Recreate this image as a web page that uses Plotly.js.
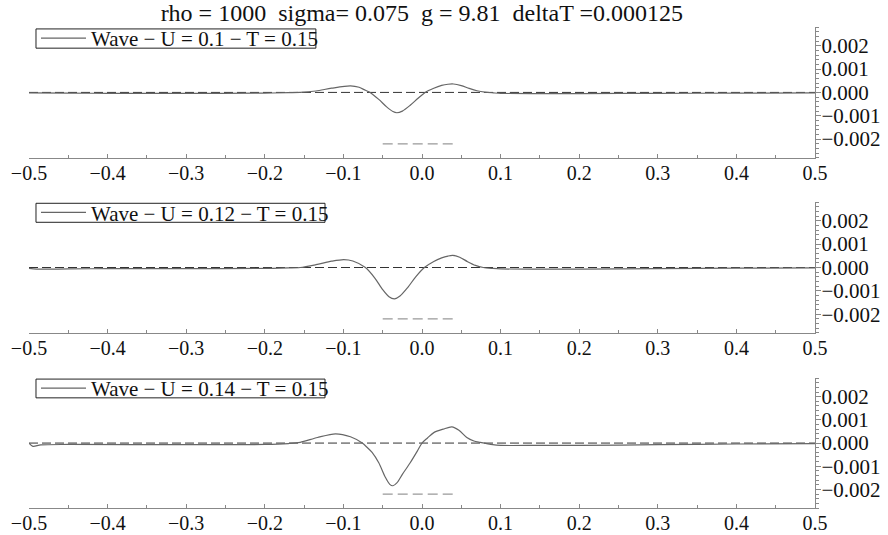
<!DOCTYPE html>
<html>
<head>
<meta charset="utf-8">
<script src="https://cdn.plot.ly/plotly-3.0.1.min.js"></script>
<style>html,body{margin:0;padding:0;background:#fff;}#chart{width:888px;height:535px;}</style>
</head>
<body>
<div id="chart"></div>
<script>
// ---- data ----
const titleText = "rho = 1000\u00a0\u00a0sigma= 0.075\u00a0\u00a0g = 9.81\u00a0\u00a0deltaT =0.000125";
const seriesNames = ["Wave \u2212 U = 0.1 \u2212 T = 0.15", "Wave \u2212 U = 0.12 \u2212 T = 0.15", "Wave \u2212 U = 0.14 \u2212 T = 0.15"];

const x1 = [-0.5,-0.45,-0.4,-0.3,-0.2,-0.17,-0.155,-0.135,-0.115,-0.091,-0.08,-0.072,-0.066,-0.055,-0.045,-0.037,-0.032,-0.025,-0.015,-0.005,0.004,0.015,0.025,0.033,0.040,0.05,0.06,0.07,0.08,0.091,0.1,0.15,0.2,0.3,0.4,0.5];
const y1 = [-0.00002,-0.00003,-0.00004,-0.00004,-0.00003,-0.00001,0.0,0.00006,0.00018,0.00028,0.00022,0.00009,0.0,-0.00030,-0.00062,-0.00082,-0.00087,-0.00080,-0.00055,-0.00025,0.0,0.00018,0.00030,0.00035,0.00036,0.00029,0.00017,0.00007,0.00001,-0.00002,-0.00004,-0.00005,-0.00005,-0.00004,-0.00003,-0.00002];

const x2 = [-0.5,-0.49,-0.45,-0.4,-0.3,-0.2,-0.17,-0.155,-0.135,-0.115,-0.0995,-0.088,-0.072,-0.06,-0.05,-0.042,-0.035,-0.028,-0.018,-0.008,0.003,0.015,0.025,0.033,0.039,0.048,0.058,0.068,0.078,0.09,0.1,0.15,0.2,0.3,0.4,0.5];
const y2 = [-0.00004,-0.00007,-0.00006,-0.00005,-0.00005,-0.00004,-0.00002,0.0,0.00012,0.00027,0.00034,0.00028,0.0,-0.00045,-0.00095,-0.00125,-0.00134,-0.00122,-0.00085,-0.00040,0.0,0.00026,0.00041,0.00049,0.00052,0.00044,0.00025,0.00009,0.0,-0.00004,-0.00006,-0.00007,-0.00007,-0.00005,-0.00003,-0.00002];

const x3 = [-0.5,-0.495,-0.485,-0.45,-0.3,-0.2,-0.17,-0.155,-0.133,-0.11,-0.091,-0.076,-0.07,-0.0635,-0.055,-0.047,-0.041,-0.037,-0.032,-0.025,-0.015,-0.006,0.0,0.007,0.015,0.027,0.038,0.047,0.057,0.066,0.074,0.09,0.1,0.15,0.2,0.3,0.4,0.5];
const y3 = [0.0,-0.00014,-0.00008,-0.00006,-0.00007,-0.00006,-0.00002,0.00003,0.00024,0.00040,0.00027,0.0,-0.00018,-0.00040,-0.00085,-0.00145,-0.00178,-0.00184,-0.00172,-0.00135,-0.00085,-0.00035,0.0,0.00022,0.00045,0.00060,0.00070,0.00055,0.00024,0.00009,0.00003,-0.00007,-0.00010,-0.00010,-0.00010,-0.00007,-0.00004,-0.00002];

const baseX = [-0.5, 0.5];
const baseY = [0, 0];
const segX = [-0.05, 0.045];
const segY = [-0.0022, -0.0022];

const xTicks = [-0.5,-0.4,-0.3,-0.2,-0.1,0.0,0.1,0.2,0.3,0.4,0.5];
const xTickText = ["\u22120.5","\u22120.4","\u22120.3","\u22120.2","\u22120.1","0.0","0.1","0.2","0.3","0.4","0.5"];
const yTicks = [0.002,0.001,0.0,-0.001,-0.002];
const yTickText = ["0.002","0.001","0.000","\u22120.001","\u22120.002"];

// ---- build ----
const serif = "'Liberation Serif'";
const xs = [x1,x2,x3], ys = [y1,y2,y3];
const traces = [];
for (let i = 0; i < 3; i++) {
  const sfx = i === 0 ? "" : String(i+1);
  const xa = "x" + sfx, ya = "y" + sfx;
  traces.push({x: baseX, y: baseY, xaxis: xa, yaxis: ya, mode: "lines", showlegend: false, hoverinfo: "skip",
    line: {color: "#333", width: 1, dash: "9px,4px"}});
  traces.push({x: segX, y: segY, xaxis: xa, yaxis: ya, mode: "lines", showlegend: false, hoverinfo: "skip",
    line: {color: "#999", width: 1.3, dash: "10px,5px"}});
  traces.push({x: xs[i], y: ys[i], xaxis: xa, yaxis: ya, mode: "lines", name: seriesNames[i],
    legend: i === 0 ? "legend" : "legend" + (i+1),
    line: {color: "#666", width: 1.2, shape: "spline", smoothing: 0.8}});
}

const domains = [[0.728, 1.0], [0.364, 0.636], [0.0, 0.270]];
const boxes = [[0.0089, 0.365, 0.956, 0.996], [0.0089, 0.3766, 0.594, 0.6335], [0.0089, 0.3766, 0.229, 0.268]];
const shapes = boxes.map(b => ({type: "rect", xref: "paper", yref: "paper", x0: b[0], x1: b[1], y0: b[2], y1: b[3],
  line: {color: "#222", width: 1}, fillcolor: "rgba(0,0,0,0)"}));

const layout = {
  width: 888, height: 535,
  margin: {l: 29, r: 73, t: 27, b: 27},
  paper_bgcolor: "#fff", plot_bgcolor: "#fff",
  font: {family: serif, color: "#111", size: 20},
  title: {text: titleText, x: 0.475, xanchor: "center", y: 0.977, yanchor: "middle",
    font: {family: serif, size: 24, color: "#111"}},
  showlegend: true,
  shapes: shapes
};
for (let i = 0; i < 3; i++) {
  const sfx = i === 0 ? "" : String(i+1);
  layout["xaxis" + sfx] = {
    domain: [0, 1], range: [-0.5, 0.5], anchor: "y" + sfx,
    tickmode: "array", tickvals: xTicks, ticktext: xTickText,
    ticks: "inside", ticklen: 4, tickcolor: "#888", tickwidth: 1,
    minor: {dtick: 0.05, ticks: "inside", ticklen: 3, tickcolor: "#888"},
    showline: true, linecolor: "#888", linewidth: 1.2, mirror: false,
    showgrid: false, zeroline: false, ticklabelstandoff: -3,
    tickfont: {family: serif, size: 20, color: "#111"}, automargin: false
  };
  layout["yaxis" + sfx] = {
    domain: domains[i], range: [-0.0028, 0.0028], anchor: "x" + sfx, side: "right",
    tickmode: "array", tickvals: yTicks, ticktext: yTickText,
    ticks: "outside", ticklen: 5, tickcolor: "#888", tickwidth: 1,
    minor: {dtick: 0.0002, tick0: 0, ticks: "outside", ticklen: 3, tickcolor: "#888"},
    showline: true, linecolor: "#888", linewidth: 1.2,
    showgrid: false, zeroline: false, ticklabelstandoff: -4,
    tickfont: {family: serif, size: 21, color: "#111"}, automargin: false
  };
  const b = boxes[i];
  layout[i === 0 ? "legend" : "legend" + (i+1)] = {
    x: b[0], y: (b[2] + b[3]) / 2, xanchor: "left", yanchor: "middle",
    bgcolor: "rgba(255,255,255,0)", borderwidth: 0,
    font: {family: serif, size: 21, color: "#111"},
    tracegroupgap: 0, itemwidth: 45
  };
}

Plotly.newPlot("chart", traces, layout, {staticPlot: true, displayModeBar: false});
</script>
</body>
</html>
